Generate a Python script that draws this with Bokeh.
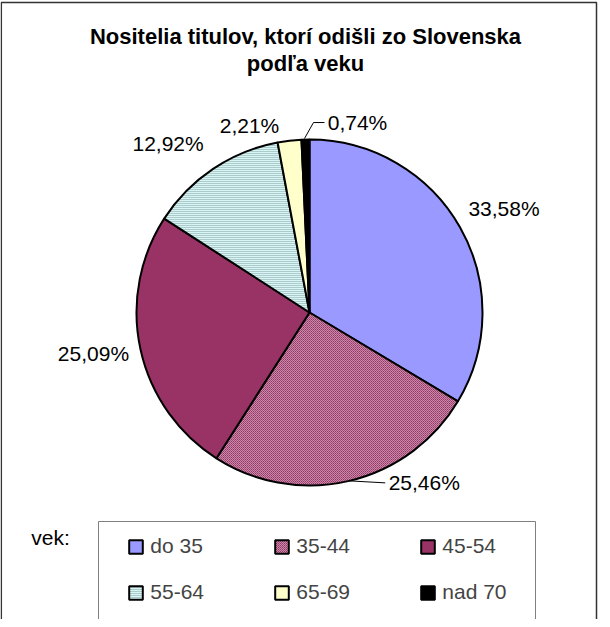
import numpy as np
from bokeh.plotting import figure
from bokeh.models import ColumnDataSource, Range1d, Legend, LegendItem
from bokeh.embed import file_html
from bokeh.resources import INLINE
from bokeh.core.properties import value

# ---- data ----
title_lines = ["Nositelia titulov, ktorí odišli zo Slovenska", "podľa veku"]
categories = ["do 35", "35-44", "45-54", "55-64", "65-69", "nad 70"]
shares = [33.58, 25.46, 25.09, 12.92, 2.21, 0.74]
legend_title = "vek:"

# ---- styles ----
colors = ["#9999FF", "#F4E4EC", "#993366", "#D8F4F4", "#FFFFCC", "#000000"]
hatches = [" ", "criss_cross", " ", "horizontal_line", " ", " "]
hatch_colors = ["#000000", "#993366", "#000000", "#7FA3A3", "#000000", "#000000"]
FONT = "Liberation Sans"

W, H = 602, 619
p = figure(width=W, height=H, x_range=Range1d(8, 8 + W), y_range=Range1d(-8 - H, -8),
           output_backend="svg", toolbar_location=None, min_border=0,
           x_axis_location=None, y_axis_location=None)
p.grid.visible = False
p.outline_line_color = None
p.background_fill_color = "white"

# outer frame (bottom edge outside the view)
p.line(x=[8.8, 8.8, 604, 604], y=[-700, -10, -10, -700], line_color="#333333", line_width=1.5)

# ---- pie ----
cx, cy, R = 317, -320, 173
frac = np.array(shares) / sum(shares)
cum = np.concatenate([[0.0], np.cumsum(frac)])
start = np.pi / 2 - 2 * np.pi * cum[:-1]
end = np.pi / 2 - 2 * np.pi * cum[1:]
src = ColumnDataSource(dict(start=start, end=end, color=colors, hatch=hatches, hcol=hatch_colors,
                            cat=categories))
wr = p.wedge(x=cx, y=cy, radius=R, start_angle="start", end_angle="end", direction="clock",
             fill_color="color", line_color="black", line_width=2,
             hatch_pattern="hatch", hatch_color="hcol", hatch_scale=2, hatch_weight=1,
             source=src)

# ---- data labels ----
mid = (start + end) / 2
ex = cx + R * np.cos(mid)
ey = cy + R * np.sin(mid)
offsets = [(44, 19), (75, -2), (-47, -4), (-45, 25), (-40, 15), (52, 17)]
lx = ex + np.array([o[0] for o in offsets])
ly = ey + np.array([o[1] for o in offsets])
labels = [("%.2f" % v).replace(".", ",") + "%" for v in shares]
p.text(x=lx, y=ly, text=labels, text_align="center", text_baseline="middle",
       text_font=value(FONT), text_font_size="21px", text_color="black")

# leader lines for the two labels that have them
i = 1
p.line(x=[ex[i], lx[i] - 39], y=[ey[i], ly[i]], line_color="black", line_width=1)
i = 5
p.line(x=[ex[i] - 1, ex[i] + 8, lx[i] - 33], y=[ey[i] + 1, ly[i], ly[i]], line_color="black", line_width=1)

# ---- title ----
p.text(x=[313, 313], y=[-44, -71], text=title_lines, text_align="center", text_baseline="middle",
       text_font=value(FONT), text_font_size="22px", text_font_style="bold", text_color="black")

# ---- legend ----
p.text(x=[58], y=[-545], text=[legend_title], text_align="center", text_baseline="middle",
       text_font=value(FONT), text_font_size="21px", text_color="black")
p.quad(left=106, right=543, top=-529, bottom=-700, fill_color=None, line_color="#808080", line_width=1)

def make_legend(idx, loc):
    items = [LegendItem(label=categories[k], renderers=[wr], index=k) for k in idx]
    return Legend(items=items, orientation="horizontal", location=loc, spacing=57, padding=0, margin=0,
                  glyph_width=17, glyph_height=17, label_standoff=6, label_width=66, label_height=24,
                  label_text_font=FONT, label_text_font_size="21px",
                  border_line_alpha=0, background_fill_alpha=0)

p.add_layout(make_legend([0, 1, 2], (127.3, 61)))
p.add_layout(make_legend([3, 4, 5], (127.3, 15)))

open("out.html", "w").write(file_html(p, INLINE))
